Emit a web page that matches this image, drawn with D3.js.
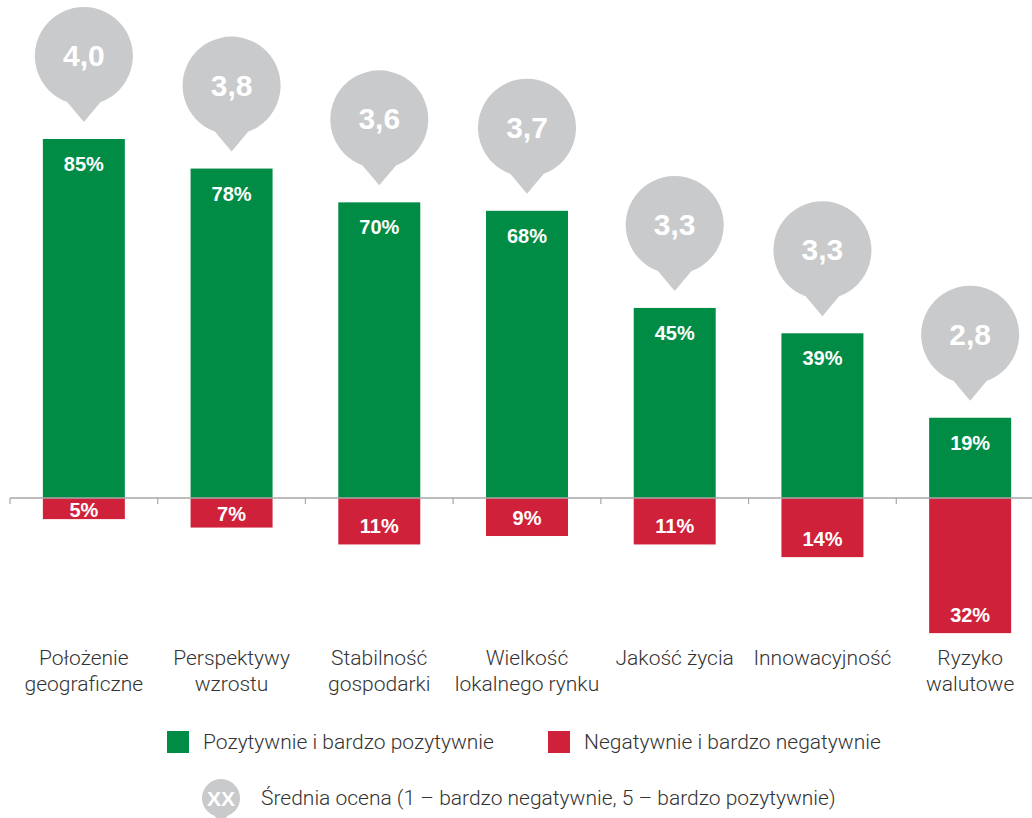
<!DOCTYPE html>
<html>
<head>
<meta charset="utf-8">
<script src="https://cdn.jsdelivr.net/npm/d3@7"></script>
<style>
  body { margin: 0; background: #fff; }
  svg { display: block; }
</style>
</head>
<body>
<div id="chart"></div>
<script>
const categories = [
  ["Położenie", "geograficzne"],
  ["Perspektywy", "wzrostu"],
  ["Stabilność", "gospodarki"],
  ["Wielkość", "lokalnego rynku"],
  ["Jakość życia"],
  ["Innowacyjność"],
  ["Ryzyko", "walutowe"]
];
const positive = [85, 78, 70, 68, 45, 39, 19];
const negative = [5, 7, 11, 9, 11, 14, 32];
const average = ["4,0", "3,8", "3,6", "3,7", "3,3", "3,3", "2,8"];

const width = 1032;
const height = 818;
const green = "#008c45";
const red = "#d0213a";
const gray = "#c9cacc";

const svg = d3.select("#chart")
  .append("svg")
  .attr("width", width)
  .attr("height", height);

const x = d3.scaleBand()
  .domain(d3.range(categories.length))
  .range([10, 1044])
  .paddingInner(0.445)
  .paddingOuter(0.2225);

const y = d3.scaleLinear()
  .domain([0, 85])
  .range([498, 139]);

// positive bars
svg.selectAll(".pos")
  .data(positive)
  .enter()
  .append("rect")
  .attr("x", (d, i) => x(i))
  .attr("y", (d) => y(d))
  .attr("width", x.bandwidth())
  .attr("height", (d) => y(0) - y(d))
  .attr("fill", green);

// negative bars
svg.selectAll(".neg")
  .data(negative)
  .enter()
  .append("rect")
  .attr("x", (d, i) => x(i))
  .attr("y", y(0))
  .attr("width", x.bandwidth())
  .attr("height", (d) => y(-d) - y(0))
  .attr("fill", red);

// axis line with ticks at band boundaries
const step = x.step();
const axis = svg.append("g");
axis.append("line")
  .attr("x1", 10).attr("x2", width)
  .attr("y1", y(0)).attr("y2", y(0))
  .attr("stroke", "#a7a7a9")
  .attr("stroke-width", 1.6);
axis.selectAll(".tick")
  .data(d3.range(categories.length))
  .enter()
  .append("line")
  .attr("x1", (d) => 10 + d * step)
  .attr("x2", (d) => 10 + d * step)
  .attr("y1", y(0))
  .attr("y2", y(0) + 6)
  .attr("stroke", "#a7a7a9")
  .attr("stroke-width", 1.2);

// value labels
svg.selectAll(".posLabel")
  .data(positive)
  .enter()
  .append("text")
  .attr("x", (d, i) => x(i) + x.bandwidth() / 2)
  .attr("y", (d) => y(d) + 32)
  .attr("text-anchor", "middle")
  .attr("font-family", "Liberation Sans, Arial, sans-serif")
  .attr("font-weight", "bold")
  .attr("font-size", 20)
  .attr("fill", "#fff")
  .text((d) => d + "%");

svg.selectAll(".negLabel")
  .data(negative)
  .enter()
  .append("text")
  .attr("x", (d, i) => x(i) + x.bandwidth() / 2)
  .attr("y", (d) => {
    const h = y(-d) - y(0);
    return y(-d) - Math.min(h / 2, 19) + 8;
  })
  .attr("text-anchor", "middle")
  .attr("font-family", "Liberation Sans, Arial, sans-serif")
  .attr("font-weight", "bold")
  .attr("font-size", 20)
  .attr("fill", "#fff")
  .text((d) => d + "%");

// pin shaped bubble
function pinPath(cx, cy, r, tail) {
  const a = 20 * Math.PI / 180;
  const lx = cx - r * Math.sin(a), ly = cy + r * Math.cos(a);
  const rx = cx + r * Math.sin(a);
  return `M${lx},${ly} A${r},${r} 0 1 1 ${rx},${ly} L${cx},${cy + tail} Z`;
}

const bubbles = svg.selectAll(".bubble")
  .data(positive)
  .enter()
  .append("g")
  .attr("transform", (d, i) => `translate(${x(i) + x.bandwidth() / 2},${y(d) - 83})`);

bubbles.append("path")
  .attr("d", pinPath(0, 0, 49, 66))
  .attr("fill", gray);

bubbles.append("text")
  .attr("text-anchor", "middle")
  .attr("y", 10)
  .attr("font-family", "Liberation Sans, Arial, sans-serif")
  .attr("font-weight", "bold")
  .attr("font-size", 30)
  .attr("fill", "#fff")
  .text((d, i) => average[i]);

// category labels
const catLabels = svg.selectAll(".cat")
  .data(categories)
  .enter()
  .append("text")
  .attr("x", (d, i) => x(i) + x.bandwidth() / 2)
  .attr("y", 665)
  .attr("text-anchor", "middle")
  .attr("font-family", "Roboto, sans-serif")
  .attr("font-weight", 300)
  .attr("font-size", 21)
  .attr("fill", "#333");

catLabels.selectAll("tspan")
  .data((d) => d)
  .enter()
  .append("tspan")
  .attr("x", function () { return d3.select(this.parentNode).attr("x"); })
  .attr("dy", (d, i) => (i === 0 ? 0 : 26))
  .text((d) => d);

// legend
const legendItems = [
  { label: "Pozytywnie i bardzo pozytywnie", color: green, x: 167 },
  { label: "Negatywnie i bardzo negatywnie", color: red, x: 548 }
];

const legend = svg.selectAll(".legend")
  .data(legendItems)
  .enter()
  .append("g")
  .attr("transform", (d) => `translate(${d.x},731)`);

legend.append("rect")
  .attr("width", 22)
  .attr("height", 22)
  .attr("fill", (d) => d.color);

legend.append("text")
  .attr("x", 36)
  .attr("y", 18)
  .attr("font-family", "Roboto, sans-serif")
  .attr("font-weight", 300)
  .attr("font-size", 21)
  .attr("fill", "#333")
  .text((d) => d.label);

const avgLegend = svg.append("g")
  .attr("transform", "translate(221,798)");

avgLegend.append("path")
  .attr("d", pinPath(0, 0, 19, 26))
  .attr("fill", gray);

avgLegend.append("text")
  .attr("text-anchor", "middle")
  .attr("y", 8)
  .attr("font-family", "Liberation Sans, Arial, sans-serif")
  .attr("font-weight", "bold")
  .attr("font-size", 21)
  .attr("fill", "#fff")
  .text("XX");

avgLegend.append("text")
  .attr("x", 40)
  .attr("y", 7)
  .attr("font-family", "Roboto, sans-serif")
  .attr("font-weight", 300)
  .attr("font-size", 21)
  .attr("fill", "#333")
  .text("Średnia ocena (1 – bardzo negatywnie, 5 – bardzo pozytywnie)");
</script>
</body>
</html>
